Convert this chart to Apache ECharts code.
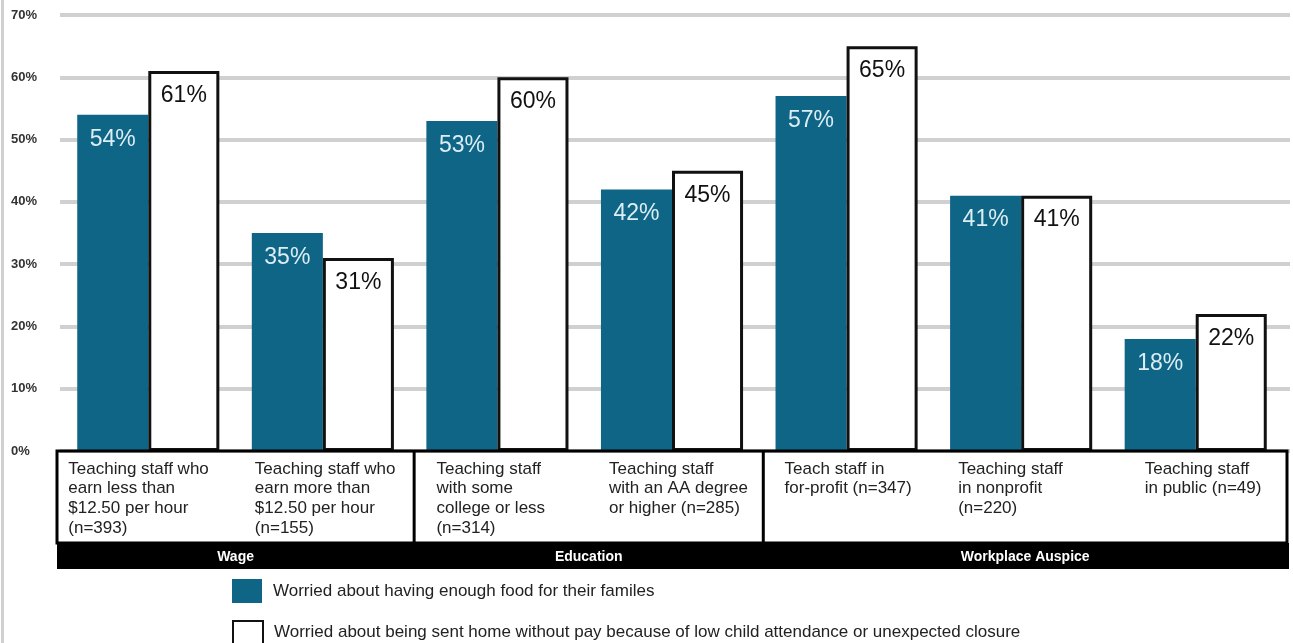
<!DOCTYPE html>
<html><head><meta charset="utf-8">
<script src="https://cdn.jsdelivr.net/npm/echarts@6/dist/echarts.min.js"></script>
<style>html,body{margin:0;padding:0;background:#fff}#c{width:1293px;height:643px}</style>
</head><body><div id="c"></div>
<script>
const categories = [
  "Teaching staff who\nearn less than\n$12.50 per hour\n(n=393)",
  "Teaching staff who\nearn more than\n$12.50 per hour\n(n=155)",
  "Teaching staff\nwith some\ncollege or less\n(n=314)",
  "Teaching staff\nwith an AA degree\nor higher (n=285)",
  "Teach staff in\nfor-profit (n=347)",
  "Teaching staff\nin nonprofit\n(n=220)",
  "Teaching staff\nin public (n=49)"
];
const foodWorry = [54, 35, 53, 42, 57, 41, 18];
const payWorry = [61, 31, 60, 45, 65, 41, 22];
const groupNames = ["Wage", "Education", "Workplace Auspice"];
const groupStart = [0, 2, 4];
const groupEnd = [2, 4, 7];
const seriesNames = [
  "Worried about having enough food for their familes",
  "Worried about being sent home without pay because of low child attendance or unexpected closure"
];
const yTicks = [0, 10, 20, 30, 40, 50, 60, 70];

// layout (not data)
const labelOffsets = [-80, -68, -61, -63, -62, -63, -51];
const FONT = "'Liberation Sans', Arial, sans-serif";
const TEAL = "#0f6586";

const chart = echarts.init(document.getElementById('c'));
const gridL = 61, gridR = 10, gridT = 15, gridB = 192;
const yMin = yTicks[0], yMax = yTicks[yTicks.length - 1];
const legendText = { fontFamily: FONT, fontSize: 17, color: '#222', padding: [2, 0, 0, 6] };
chart.setOption({
  animation: false,
  backgroundColor: '#fff',
  grid: [
    { left: gridL, right: gridR, top: gridT, bottom: gridB },
    { left: gridL - 1, right: 3, top: gridT, bottom: gridB }
  ],
  legend: [
    { left: 232, top: 579, padding: 0, itemWidth: 30, itemHeight: 24, icon: 'rect', textStyle: legendText, data: [seriesNames[0]] },
    { left: 232, top: 620, padding: 0, itemWidth: 30, itemHeight: 23, icon: 'rect', textStyle: legendText, data: [seriesNames[1]] }
  ],
  xAxis: [
    { type: 'category', data: categories, gridIndex: 0,
      axisLine: { show: false }, axisTick: { show: false }, axisLabel: { show: false } },
    { type: 'value', gridIndex: 1, show: false }
  ],
  yAxis: [
    { type: 'value', gridIndex: 0, min: yMin, max: yMax, interval: 10,
      axisLine: { show: false }, axisTick: { show: false }, axisLabel: { show: false }, splitLine: { show: false } },
    { type: 'value', gridIndex: 1, min: yMin, max: yMax, interval: 10,
      axisLine: { show: false }, axisTick: { show: false },
      axisLabel: { formatter: v => v + '%', fontFamily: FONT, fontWeight: 'bold', fontSize: 13, color: '#333', align: 'left', margin: 49 },
      splitLine: { lineStyle: { color: '#d0d0d0', width: 4 } } }
  ],
  series: [
    {
      name: seriesNames[0], type: 'bar', data: foodWorry, barGap: '0%', barCategoryGap: '18.6%',
      itemStyle: { color: TEAL }, z: 3,
      label: { show: true, position: 'insideTop', distance: 13, formatter: '{c}%', color: '#dcedf4', fontSize: 23, fontFamily: FONT }
    },
    {
      name: seriesNames[1], type: 'bar', data: payWorry, barGap: '0%', barCategoryGap: '18.6%',
      itemStyle: { color: '#fff', borderColor: '#111', borderWidth: 3 }, z: 3,
      label: { show: true, position: 'insideTop', distance: 13, formatter: '{c}%', color: '#111', fontSize: 23, fontFamily: FONT }
    }
  ]
});

function drawBoxes() {
  const x0 = chart.convertToPixel({ xAxisIndex: 0 }, 0);
  const x1 = chart.convertToPixel({ xAxisIndex: 0 }, 1);
  const step = x1 - x0;
  const y0 = chart.convertToPixel({ yAxisIndex: 0 }, 0);
  const boxTop = y0, boxBot = y0 + 92, bandBot = boxBot + 26;
  const left = gridL - 4, right = 1287;
  const els = [];
  els.push({ type: 'rect', shape: { x: 1, y: 0, width: 3, height: 643 }, style: { fill: '#d0d0d0' } });
  els.push({ type: 'rect', shape: { x: left, y: boxBot, width: right + 2 - left, height: bandBot - boxBot }, style: { fill: '#000' } });
  els.push({ type: 'rect', shape: { x: left, y: boxTop, width: right - left, height: boxBot - boxTop }, style: { fill: 'none', stroke: '#000', lineWidth: 3 }, z: 10 });
  groupNames.forEach((g, i) => {
    const gx0 = x0 - step / 2 + groupStart[i] * step;
    const gx1 = x0 - step / 2 + groupEnd[i] * step;
    const a = i === 0 ? left : gx0 + 4;
    const b = i === groupNames.length - 1 ? right : gx1 + 4;
    if (i > 0) {
      els.push({ type: 'line', shape: { x1: a, y1: boxTop, x2: a, y2: boxBot }, style: { stroke: '#000', lineWidth: 3 }, z: 10 });
    }
    els.push({ type: 'text', x: (a + b) / 2, y: (boxBot + bandBot) / 2 + 1, style: { text: g, fill: '#fff', font: "bold 14px " + FONT, textAlign: 'center', textVerticalAlign: 'middle' }, z: 11 });
  });
  categories.forEach((c, i) => {
    const cx = chart.convertToPixel({ xAxisIndex: 0 }, i);
    els.push({ type: 'text', x: cx + labelOffsets[i], y: boxTop + 8, style: { text: c, fill: '#222', font: "17px " + FONT, lineHeight: 19.7, textAlign: 'left', textVerticalAlign: 'top' }, z: 11 });
  });
  chart.setOption({ graphic: els });
}
drawBoxes();
</script>
</body></html>
